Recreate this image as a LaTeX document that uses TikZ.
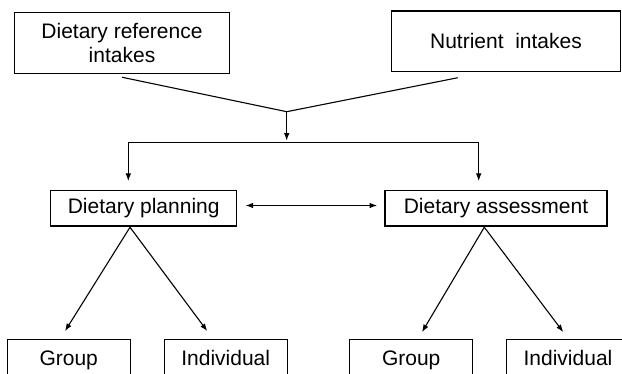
\documentclass[tikz,border=0pt]{standalone}
\usepackage{fontspec}
\setmainfont{Liberation Sans}
\usetikzlibrary{arrows.meta}

\begin{document}
\begin{tikzpicture}[x=0.5pt,y=-0.5pt,line width=0.55pt,
    box/.style={draw,inner sep=0pt,align=center,font=\fontsize{10.5}{11.7}\selectfont},
    leaf/.style={box,minimum width=61.5pt,minimum height=20.3pt,text height=7.4pt,text depth=2.2pt},
    arr/.style={-{Latex[length=3.8pt,width=2.8pt]}},
    both/.style={{Latex[length=3.8pt,width=2.8pt]}-{Latex[length=3.8pt,width=2.8pt]}}]
\useasboundingbox(0,0)rectangle(622,374);
\clip(0,0)rectangle(622,374);
\node[box,minimum width=107.3pt,minimum height=30.3pt]at(122,43)(dri){Dietary reference\\intakes};
\node[box,minimum width=114.3pt,minimum height=30.3pt]at(506,41.3)(nut){Nutrient~~intakes};
\node[box,minimum width=93pt,minimum height=17.7pt]at(143.7,208.3)(plan){Dietary planning};
\node[box,minimum width=111pt,minimum height=17.7pt]at(496,208.3)(assess){Dietary assessment};
\foreach\x/\n/\t in{68.7/g1/Group,225.7/i1/Individual,411.2/g2/Group,568/i2/Individual}{
    \node[leaf]at(\x,359.8)(\n){\t};
}
\coordinate(m)at(286.7,111.7);
\coordinate(jl)at(128.3,142.7);
\coordinate(jr)at(478.7,142.7);
\draw([yshift=-1.7pt]dri.south)--(m)--([xshift=-24.15pt,yshift=-2.8pt]nut.south);
\draw[arr,shorten >=1pt](m)--(m|-jl);
\draw(jl)--(jr);
\draw[arr,shorten >=4.5pt](jl)--(jl|-plan.north);
\draw[arr,shorten >=4.5pt](jr)--(jr|-assess.north);
\draw[both,shorten <=4.15pt,shorten >=3.65pt]([yshift=1.4pt]plan.east)--([yshift=1.4pt]assess.west);
\draw[arr]([xshift=-6.85pt,yshift=-0.35pt]plan.south)--([xshift=-1.85pt,yshift=3.9pt]g1.north);
\draw[arr]([xshift=-6.85pt,yshift=-0.35pt]plan.south)--([xshift=-9.2pt,yshift=3.9pt]i1.north);
\draw[arr]([xshift=-5.85pt,yshift=-0.35pt]assess.south)--([xshift=5.4pt,yshift=3.4pt]g2.north);
\draw[arr]([xshift=-5.85pt,yshift=-0.35pt]assess.south)--([xshift=-2.35pt,yshift=3.4pt]i2.north);
\end{tikzpicture}
\end{document}
